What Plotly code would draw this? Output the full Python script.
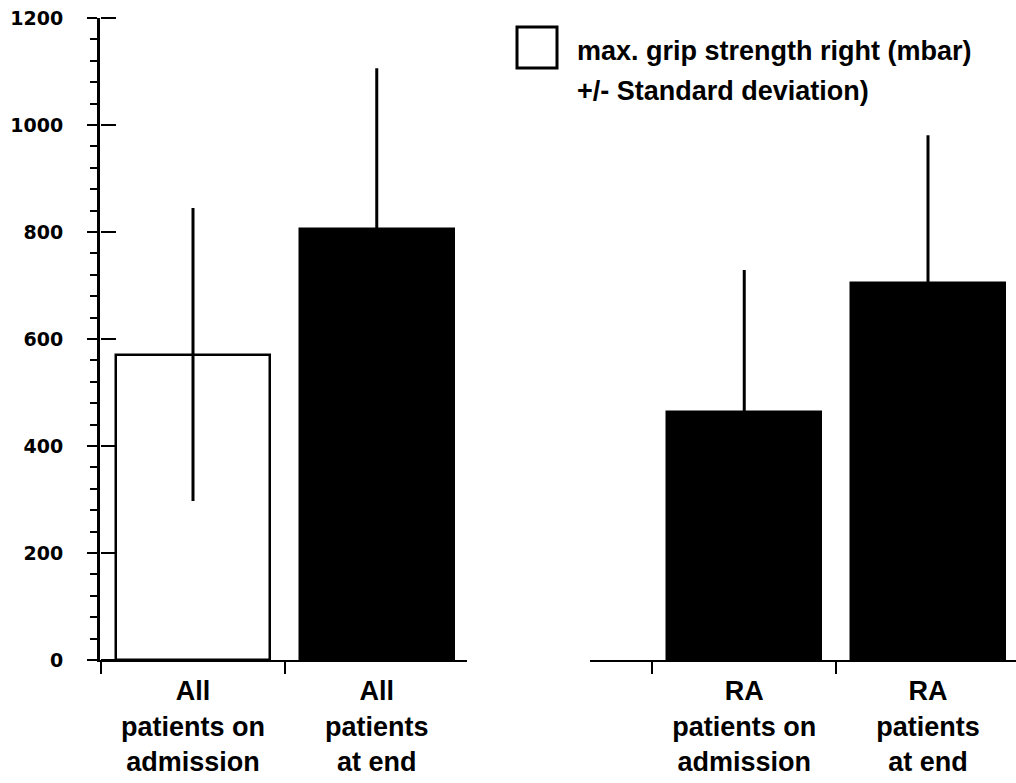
import plotly.graph_objects as go

# ---- data ----
categories = ["All<br>patients on<br>admission", "All<br>patients<br>at end",
              "RA<br>patients on<br>admission", "RA<br>patients<br>at end"]
positions = [0, 1, 3, 4]
means = [571, 805, 464, 704]
sds = [274, 301, 265, 277]
fills = ["white", "black", "black", "black"]
ytick_vals = [0, 200, 400, 600, 800, 1000, 1200]
ytick_text = ["0", "200", "400", "600", "800", "1000", "1200"]
legend_lines = ["max. grip strength right (mbar)", "+/- Standard deviation)"]

# ---- geometry helpers (pixels -> paper) ----
W, H = 1016, 783
ML, MR, MT, MB = 100, 0, 18, 123
PW, PH = W - ML - MR, H - MT - MB
def px(x):
    return (x - ML) / PW
def py(y):
    return (H - MB - y) / PH

label_font = dict(family="Liberation Sans, Arial, sans-serif", size=27, color="black", weight="bold")

fig = go.Figure()
fig.add_trace(go.Bar(
    x=positions[:2], y=means[:2], width=0.84,
    marker=dict(color=fills[:2], line=dict(color="black", width=2.5)),
    error_y=dict(type="data", array=sds[:2], color="black", thickness=3, width=0),
    xaxis="x", yaxis="y", showlegend=False))
fig.add_trace(go.Bar(
    x=positions[2:], y=means[2:], width=0.84,
    marker=dict(color=fills[2:], line=dict(color="black", width=2.5)),
    error_y=dict(type="data", array=sds[2:], color="black", thickness=3, width=0),
    xaxis="x2", yaxis="y", showlegend=False))
# invisible helper trace so the overlaid tick axis (inner halves of major ticks) is drawn
fig.add_trace(go.Scatter(x=[positions[0]], y=[means[0]], xaxis="x", yaxis="y2",
                         mode="markers", marker=dict(opacity=0), showlegend=False,
                         hoverinfo="skip"))

unit = 183.75
c0 = 193
def pos(p):
    return (p - c0) / unit

fig.update_layout(
    width=W, height=H,
    margin=dict(l=ML, r=MR, t=MT, b=MB, pad=0),
    plot_bgcolor="white", paper_bgcolor="white",
    bargap=0,
    xaxis=dict(domain=[0, px(467)], range=[pos(100), pos(467)],
               tickvals=positions[:2], ticktext=categories[:2],
               ticks="", showline=True, linecolor="black", linewidth=2,
               showgrid=False, zeroline=False, anchor="y",
               tickfont=label_font, ticklabelstandoff=6,
               minor=dict(tickvals=[-0.5, 0.5, 1.5], ticks="outside", ticklen=12,
                          tickwidth=2, tickcolor="black", showgrid=False)),
    xaxis2=dict(domain=[px(590), 1], range=[3 + (590 - 744.25) / unit, 3 + (1016 - 744.25) / unit],
                tickvals=positions[2:], ticktext=categories[2:],
                ticks="", showline=True, linecolor="black", linewidth=2,
                showgrid=False, zeroline=False, anchor="y",
                tickfont=label_font, ticklabelstandoff=6,
                minor=dict(tickvals=[2.5, 3.5], ticks="outside", ticklen=12,
                           tickwidth=2, tickcolor="black", showgrid=False)),
    yaxis=dict(range=[0, 1200], tickvals=ytick_vals, ticktext=ytick_text,
               ticks="outside", ticklen=10, tickwidth=2, tickcolor="black",
               showline=True, linecolor="black", linewidth=3,
               showgrid=False, zeroline=False, anchor="x",
               tickfont=dict(family="DejaVu Sans, sans-serif", size=19, color="black", weight="bold"),
               ticklabelstandoff=20,
               minor=dict(dtick=40, ticks="outside", ticklen=7, tickwidth=2,
                          tickcolor="black", showgrid=False)),
    yaxis2=dict(range=[0, 1200], overlaying="y", side="right", anchor="free", position=0,
                tickvals=ytick_vals, ticks="outside", ticklen=15, tickwidth=2,
                tickcolor="black", showticklabels=False, showline=False,
                showgrid=False, zeroline=False),
    shapes=[dict(type="rect", xref="paper", yref="paper",
                 x0=px(517), x1=px(557), y0=py(68), y1=py(27),
                 line=dict(color="black", width=3), fillcolor="white")],
    annotations=[
        dict(text=legend_lines[0], xref="paper", yref="paper", x=px(575), y=py(51),
             xanchor="left", yanchor="middle", showarrow=False, font=label_font),
        dict(text=legend_lines[1], xref="paper", yref="paper", x=px(575), y=py(91),
             xanchor="left", yanchor="middle", showarrow=False, font=label_font),
    ],
)

fig.write_html("out.html")
